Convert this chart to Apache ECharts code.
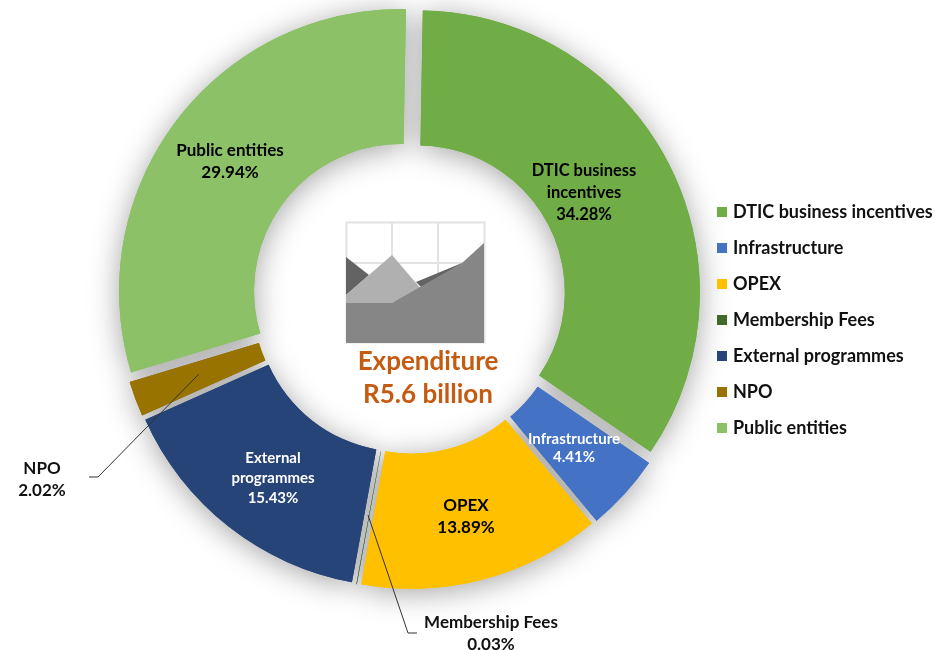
<!DOCTYPE html>
<html><head><meta charset="utf-8">
<style>html,body{margin:0;padding:0;background:#fff}#c{width:935px;height:650px}</style>
<script src="https://cdn.jsdelivr.net/npm/echarts@6/dist/echarts.min.js"></script>
</head><body><div id="c"></div>
<script>
const categories=['DTIC business incentives','Infrastructure','OPEX','Membership Fees','External programmes','NPO','Public entities'];
const sliceLabels=['DTIC business\nincentives','Infrastructure','OPEX','Membership Fees','External\nprogrammes','NPO','Public entities'];
const shares=[34.28,4.41,13.89,0.03,15.43,2.02,29.94];
const colors=['#70AD47','#4472C4','#FFC000','#43682B','#264478','#997300','#8CC168'];
const labelColors=['#000','#fff','#000','#111','#fff','#111','#000'];
const labelSizes=[16.5,15,17,17,15,17,17];
const labelLineHeights=[22,18,22,22,20,22,22];
const labelSpots=[[584,193],[574,448],[466,517],[491,634],[273,478],[42,480],[230,162]];
const leaders=[[[368,515],[408,633],[417,633]],[[199,374],[98,477],[89,477]]];
const FONT='Lato, "Noto Sans", sans-serif';
const chart=echarts.init(document.getElementById('c'));
const poly=(points,fill)=>({type:'polygon',silent:true,z:6,shape:{points},style:{fill}});
const gridLine=(x1,y1,x2,y2)=>({type:'line',silent:true,z:5,shape:{x1,y1,x2,y2},style:{stroke:'#e2e2e2',lineWidth:2}});
const pieBase={type:'pie',center:[409,297],radius:[147,282],startAngle:89,clockwise:true,
  selectedMode:'multiple',selectedOffset:10,avoidLabelOverlap:false,
  emphasis:{disabled:true},label:{show:false},labelLine:{show:false},
  data:categories.map((name,i)=>({name,value:shares[i],selected:true}))};
chart.setOption({
  animation:false,
  color:colors,
  legend:{orient:'vertical',left:712,top:198,itemWidth:10,itemHeight:10,itemGap:18,icon:'rect',selectedMode:false,
    data:categories,
    textStyle:{fontFamily:FONT,fontSize:18,fontWeight:'bold',color:'#111',lineHeight:18,padding:[0,0,0,1]}},
  series:[
    Object.assign({},pieBase,{z:1,silent:true,itemStyle:{shadowBlur:30,shadowColor:'rgba(0,0,0,0.36)',shadowOffsetY:4}}),
    Object.assign({},pieBase,{z:2})
  ],
  graphic:{elements:[
    {type:'rect',silent:true,z:5,shape:{x:346.5,y:222.5,width:138,height:120},style:{fill:'#fff',stroke:'#e2e2e2',lineWidth:2}},
    gridLine(392,223,392,342),gridLine(438,223,438,342),gridLine(346,263,484,263),
    poly([[346,257],[369,275],[346,295]],'#636363'),
    poly([[416,282],[462,263],[440,280],[424,290]],'#636363'),
    poly([[346,295],[392,255],[422,290],[392,303],[346,303]],'#b0b0b0'),
    poly([[346,303],[392,303],[462,263],[484,243],[484,343],[346,343]],'#868686'),
    {type:'text',silent:true,z:7,style:{x:428,y:362,text:'Expenditure',fill:'#C55A11',font:'bold 26px '+FONT,align:'center',verticalAlign:'middle'}},
    {type:'text',silent:true,z:7,style:{x:428,y:395,text:'R5.6 billion',fill:'#C55A11',font:'bold 26px '+FONT,align:'center',verticalAlign:'middle'}},
    ...leaders.map(points=>({type:'polyline',silent:true,z:8,shape:{points},style:{stroke:'#333',lineWidth:1,fill:null}})),
    ...categories.map((c,i)=>({type:'text',silent:true,z:9,style:{
      x:labelSpots[i][0],y:labelSpots[i][1],
      text:sliceLabels[i]+'\n'+shares[i].toFixed(2)+'%',
      fill:labelColors[i],font:'bold '+labelSizes[i]+'px '+FONT,lineHeight:labelLineHeights[i],
      align:'center',verticalAlign:'middle'}}))
  ]}
});
</script></body></html>
